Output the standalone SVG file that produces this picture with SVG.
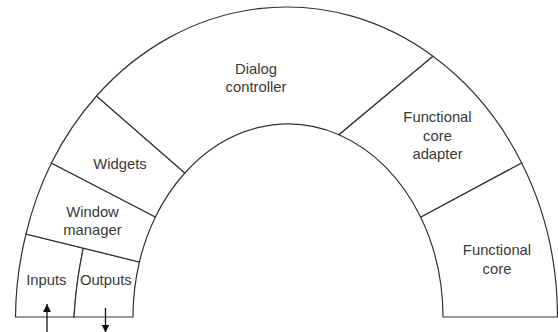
<svg xmlns="http://www.w3.org/2000/svg" width="558" height="332" viewBox="0 0 558 332">
<style>
.seg{fill:#fff;stroke:#333;stroke-width:1.2;stroke-linejoin:miter}
.lbl{font-family:"Liberation Sans",Arial,sans-serif;font-size:14.8px;fill:#3a3a3a;text-anchor:middle}
.arr{stroke:#111;stroke-width:1.3;fill:none}
</style>
<defs>
<marker id="ah" markerUnits="userSpaceOnUse" markerWidth="9" markerHeight="9" refX="8" refY="4" orient="auto">
<path d="M0,0 L8,4 L0,8 Z" fill="#111"/>
</marker>
</defs>
<rect width="558" height="332" fill="#fff"/>
<g id="inputs">
<path class="seg" d="M15.5 317 A271 310 0 0 1 26 234 L83.3 248.1 Q76 282.6 74 317 Z"/>
<text class="lbl" x="46.3" y="285">Inputs</text>
</g>
<g id="outputs">
<path class="seg" d="M74 317 Q76 282.6 83.3 248.1 L139.4 262 A155 193 0 0 0 133 317 Z"/>
<text class="lbl" x="105.8" y="285">Outputs</text>
</g>
<g id="window-manager">
<path class="seg" d="M26 234 A271 310 0 0 1 51.4 163 L155.4 217 A155 193 0 0 0 139.4 262 Z"/>
<text class="lbl" x="92.5" y="216.5">Window</text>
<text class="lbl" x="92.5" y="235">manager</text>
</g>
<g id="widgets">
<path class="seg" d="M51.4 163 A271 310 0 0 1 96.5 96 L184.8 173 A155 193 0 0 0 155.4 217 Z"/>
<text class="lbl" x="120" y="169">Widgets</text>
</g>
<g id="dialog-controller">
<path class="seg" d="M96.5 96 A271 310 0 0 1 433 56.2 L339 134.7 A155 193 0 0 0 184.8 173 Z"/>
<text class="lbl" x="256" y="73.5">Dialog</text>
<text class="lbl" x="256" y="92">controller</text>
</g>
<g id="functional-core-adapter">
<path class="seg" d="M433 56.2 A271 310 0 0 1 521.7 163 L420.7 217.3 A155 193 0 0 0 339 134.7 Z"/>
<text class="lbl" x="437.5" y="122">Functional</text>
<text class="lbl" x="437.5" y="140.5">core</text>
<text class="lbl" x="437.5" y="159">adapter</text>
</g>
<g id="functional-core">
<path class="seg" d="M521.7 163 A271 310 0 0 1 557.5 317 L443 317 A155 193 0 0 0 420.7 217.3 Z"/>
<text class="lbl" x="497" y="255">Functional</text>
<text class="lbl" x="497" y="273.5">core</text>
</g>
<g id="connectors">
<line class="arr" x1="47" y1="332" x2="47" y2="304" marker-end="url(#ah)"/>
<line class="arr" x1="105.5" y1="308" x2="105.5" y2="332.5" marker-end="url(#ah)"/>
</g>
</svg>
